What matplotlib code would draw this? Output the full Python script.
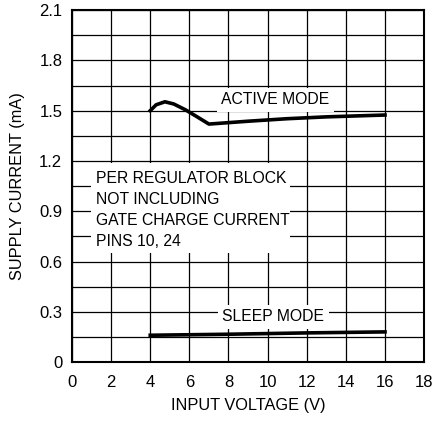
import matplotlib
matplotlib.use("Agg")
import matplotlib.pyplot as plt
from matplotlib.patches import Rectangle
import numpy as np

plt.rcParams['font.family'] = ['Liberation Sans Narrow', 'Liberation Sans', 'DejaVu Sans']

# active mode curve
active_v = [4.0, 4.3, 4.75, 5.2, 5.8, 6.4, 7.0, 9.0, 11.0, 13.0, 16.0]
active_i = [1.50, 1.535, 1.553, 1.540, 1.505, 1.463, 1.42, 1.437, 1.452, 1.463, 1.474]

# sleep mode curve
sleep_v = [4.0, 8.0, 12.0, 16.0]
sleep_i = [0.160, 0.166, 0.174, 0.180]

x_ticks = [0, 2, 4, 6, 8, 10, 12, 14, 16, 18]
y_ticks = [0, 0.3, 0.6, 0.9, 1.2, 1.5, 1.8, 2.1]
y_tick_labels = ["0", "0.3", "0.6", "0.9", "1.2", "1.5", "1.8", "2.1"]

fs = 11.3

fig = plt.figure(figsize=(4.35, 4.21), dpi=100)
ax = fig.add_axes([0.1655, 0.14, 0.8095, 0.836])

ax.set_xlim(0, 18)
ax.set_ylim(0, 2.1)
ax.set_xticks(x_ticks)
ax.set_yticks(y_ticks)
ax.set_yticklabels(y_tick_labels)
ax.set_yticks(np.arange(0.15, 2.1, 0.3), minor=True)
ax.tick_params(which="both", length=0, labelsize=fs + 0.7, pad=7)
ax.tick_params(axis="x", pad=9)
ax.grid(True, which="both", color="black", linewidth=0.9, zorder=0)
for s in ax.spines.values():
    s.set_linewidth(1.5)
    s.set_zorder(5)

ax.plot(active_v, active_i, color="black", linewidth=2.6, zorder=3)
ax.plot(sleep_v, sleep_i, color="black", linewidth=2.6, zorder=3)

box = dict(facecolor="white", edgecolor="none", pad=3)
ax.text(10.4, 1.565, "ACTIVE MODE", ha="center", va="center", fontsize=fs,
        bbox=box, zorder=4)
ax.text(10.3, 0.27, "SLEEP MODE", ha="center", va="center", fontsize=fs,
        bbox=box, zorder=4)

# white panel behind the note
ax.add_patch(Rectangle((0.97, 0.65), 10.18, 0.537, facecolor="white",
                       edgecolor="none", zorder=2))
ax.text(1.23, 0.905, "PER REGULATOR BLOCK\nNOT INCLUDING\nGATE CHARGE CURRENT\nPINS 10, 24",
        ha="left", va="center", fontsize=fs, linespacing=1.5, zorder=4)

ax.set_xlabel("INPUT VOLTAGE (V)", fontsize=fs + 0.5, labelpad=6)
ax.set_ylabel("SUPPLY CURRENT (mA)", fontsize=fs + 0.5, labelpad=10)

fig.savefig("out.png", dpi=100)
